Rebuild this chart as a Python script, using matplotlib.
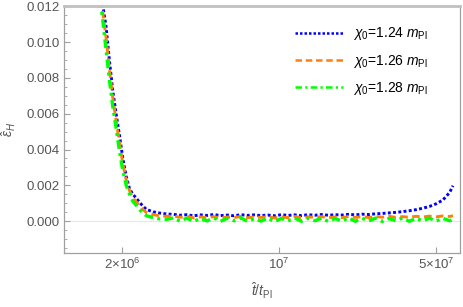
import numpy as np
import matplotlib
matplotlib.use("Agg")
import matplotlib.pyplot as plt
from matplotlib.ticker import FixedLocator, MultipleLocator, NullLocator

# フォント設定 (Mathematica 風のサンセリフ)
plt.rcParams['font.family'] = ['Liberation Sans', 'DejaVu Sans']
plt.rcParams['mathtext.fontset'] = 'custom'
plt.rcParams['mathtext.rm'] = 'Liberation Sans'
plt.rcParams['mathtext.it'] = 'Liberation Sans:italic'
plt.rcParams['mathtext.bf'] = 'Liberation Sans:bold'

# データ (横軸は log10(t / t_Pl))
log_t = [6.20, 6.215, 6.23, 6.245, 6.26, 6.275, 6.29, 6.305, 6.32, 6.335,
         6.35, 6.37, 6.39, 6.41, 6.44, 6.47, 6.50,
         6.53, 6.56, 6.59, 6.62, 6.65, 6.68, 6.71, 6.74, 6.77, 6.80,
         6.83, 6.86, 6.89, 6.92, 6.95, 6.98, 7.01, 7.04, 7.07, 7.10,
         7.13, 7.16, 7.19, 7.22, 7.25, 7.28, 7.31, 7.34, 7.37, 7.40,
         7.43, 7.46, 7.49, 7.52, 7.55, 7.58, 7.61, 7.64, 7.67, 7.70,
         7.73, 7.76, 7.775]

eps_124 = [0.0136, 0.0121, 0.0109, 0.0090, 0.0073, 0.0060, 0.0048, 0.0035, 0.0025, 0.0018,
           0.0015, 0.0012, 0.0009, 0.00065, 0.00052, 0.00045, 0.00040,
           0.00038, 0.00033, 0.00036, 0.00030, 0.00035, 0.00032, 0.00037, 0.00031, 0.00034, 0.00030,
           0.00036, 0.00032, 0.00035, 0.00031, 0.00034, 0.00030, 0.00036, 0.00032, 0.00035, 0.00031,
           0.00036, 0.00033, 0.00037, 0.00033, 0.00036, 0.00034, 0.00038, 0.00035, 0.00039, 0.00037,
           0.00041, 0.00043, 0.00046, 0.00049, 0.00053, 0.00058, 0.00064, 0.00072, 0.00082, 0.00097,
           0.00118, 0.00160, 0.00198]

eps_126 = [0.0132, 0.0117, 0.0103, 0.0085, 0.0069, 0.0056, 0.0044, 0.0032, 0.0023, 0.0017,
           0.0013, 0.0010, 0.0007, 0.00048, 0.00036, 0.00030, 0.00027,
           0.00028, 0.00022, 0.00026, 0.00019, 0.00024, 0.00020, 0.00025, 0.00018, 0.00023, 0.00020,
           0.00026, 0.00019, 0.00024, 0.00021, 0.00025, 0.00018, 0.00023, 0.00020, 0.00026, 0.00019,
           0.00024, 0.00021, 0.00025, 0.00019, 0.00024, 0.00020, 0.00026, 0.00021, 0.00025, 0.00020,
           0.00026, 0.00022, 0.00027, 0.00021, 0.00025, 0.00022, 0.00027, 0.00023, 0.00028, 0.00024,
           0.00029, 0.00026, 0.00030]

eps_128 = [0.0128, 0.0113, 0.0096, 0.0079, 0.0064, 0.0052, 0.0039, 0.0028, 0.0020, 0.0015,
           0.0011, 0.0008, 0.0005, 0.0003, 0.0002, 0.00012, 0.00010,
           0.00018, 0.00000, 0.00017, -0.00002, 0.00015, 0.00001, 0.00018, -0.00001, 0.00016, 0.00002,
           0.00019, -0.00002, 0.00014, 0.00000, 0.00017, -0.00003, 0.00015, 0.00001, 0.00018, -0.00001,
           0.00016, 0.00002, 0.00017, -0.00002, 0.00015, 0.00000, 0.00018, -0.00001, 0.00016, 0.00001,
           0.00017, -0.00002, 0.00015, 0.00002, 0.00018, -0.00001, 0.00016, 0.00001, 0.00017, 0.00000,
           0.00016, 0.00002, 0.00010]

labels = [r"$\chi_0$=1.24 $m_{\rm Pl}$",
          r"$\chi_0$=1.26 $m_{\rm Pl}$",
          r"$\chi_0$=1.28 $m_{\rm Pl}$"]
colors = ["#0000ff", "#ff7f0e", "#00ff00"]
dashes = [(1.0, 0.8), (2.6, 1.5), (2.6, 1.3, 0.9, 1.3)]
widths = [2.1, 2.1, 2.4]

t = 10 ** np.array(log_t)

fig = plt.figure(figsize=(4.63, 3.07), dpi=100)
ax = fig.add_axes([64 / 463, 1 - 253 / 307, 396 / 463, 247 / 307])

ax.axhline(0, color="#e0e0e0", lw=0.6, zorder=0)

lines = []
for eps, lab, c, d, w in zip([eps_124, eps_126, eps_128], labels, colors, dashes, widths):
    ln, = ax.plot(t, eps, color=c, lw=w, dashes=d, label=lab)
    lines.append(ln)

ax.set_xscale("log")
ax.set_xlim(1.104e6, 6.40e7)
ax.set_ylim(-0.00178, 0.01202)

ax.xaxis.set_major_locator(FixedLocator([2e6, 1e7, 5e7]))
ax.xaxis.set_minor_locator(NullLocator())
ax.set_xticklabels([r"$2{\times}10^{6}$", r"$10^{7}$", r"$5{\times}10^{7}$"])
ax.yaxis.set_major_locator(MultipleLocator(0.002))
ax.yaxis.set_minor_locator(MultipleLocator(0.0005))
ax.yaxis.set_major_formatter(matplotlib.ticker.FuncFormatter(lambda v, p: f"{v:.3f}"))

frame = "#a0a0a0"
for s in ["left", "bottom", "right"]:
    ax.spines[s].set_color(frame)
    ax.spines[s].set_linewidth(0.9)
ax.spines["top"].set_color("#c0c0c0")
ax.spines["top"].set_linewidth(2.0)

ax.tick_params(which="both", direction="in", color=frame, labelcolor="#555555",
               labelsize=9.5, top=False, right=False)
ax.tick_params(which="major", length=4, width=0.8, pad=3)
ax.tick_params(which="minor", length=2.5, width=0.6)

ax.set_xlabel(r"$\hat{t}/t_{\rm Pl}$", color="#555555", fontsize=10, labelpad=6)
ax.set_ylabel(r"$\hat{\varepsilon}_H$", color="#555555", fontsize=10, labelpad=6)

leg = ax.legend(loc="upper left", bbox_to_anchor=(282 / 463, 1 - 13 / 307),
                bbox_transform=fig.transFigure, frameon=False, fontsize=10,
                handlelength=3.5, handletextpad=0.7, labelspacing=0.75)
for h in leg.get_lines():
    h.set_linewidth(1.8)

fig.savefig("out.png", dpi=100)
